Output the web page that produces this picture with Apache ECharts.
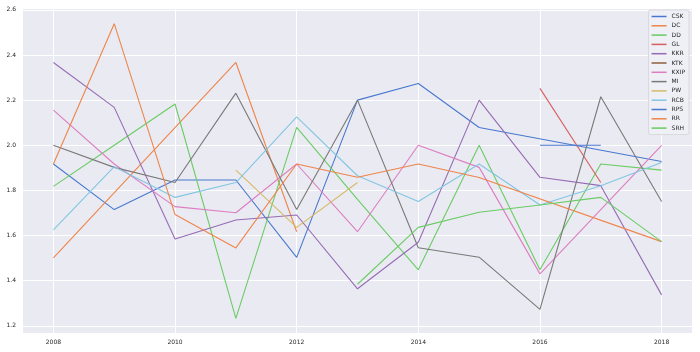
<!DOCTYPE html>
<html>
<head>
<meta charset="utf-8">
<script src="https://cdn.jsdelivr.net/npm/echarts@6/dist/echarts.min.js"></script>
<style>
	html, body { margin: 0; padding: 0; background: #ffffff; }
	#chart { width: 700px; height: 352px; }
</style>
</head>
<body>
<div id="chart"></div>
<script>
var years = [2008, 2009, 2010, 2011, 2012, 2013, 2014, 2015, 2016, 2017, 2018];
var teams = ["CSK", "DC", "DD", "GL", "KKR", "KTK", "KXIP", "MI", "PW", "RCB", "RPS", "RR", "SRH"];
var colors = ["#4878d0", "#ee854a", "#6acc64", "#d65f5f", "#956cb4", "#8c613c", "#dc7ec0", "#797979", "#d5bb67", "#82c6e2", "#4878d0", "#ee854a", "#6acc64"];

// one value per year, null = team did not play
var CSK = [1.917, 1.715, 1.846, 1.846, 1.503, 2.2, 2.274, 2.079, null, null, 1.928];
var DC = [1.501, null, null, 2.367, 1.617, null, null, null, null, null, null];
var DD = [1.818, 2.0, 2.183, 1.233, 2.079, 1.76, 1.448, 2.0, 1.448, 1.917, 1.89];
var GL = [null, null, null, null, null, null, null, null, 2.252, 1.835, null];
var KKR = [2.367, 2.168, 1.585, 1.669, 1.691, 1.364, 1.57, 2.2, 1.858, 1.821, 1.337];
var KTK = [null, null, null, 1.8, null, null, null, null, null, null, null];
var KXIP = [2.156, 1.917, 1.728, 1.701, 1.917, 1.617, 2.0, 1.902, 1.43, 1.715, 2.0];
var MI = [2.0, 1.902, 1.835, 2.231, 1.715, 2.2, 1.546, 1.504, 1.273, 2.215, 1.751];
var PW = [null, null, null, 1.89, 1.636, 1.835, null, null, null, null, null];
var RCB = [1.625, 1.905, 1.769, 1.835, 2.126, 1.865, 1.751, 1.917, 1.735, 1.821, 1.924];
var RPS = [null, null, null, null, null, null, null, null, 2.0, 2.0, null];
var RR = [1.917, 2.539, 1.693, 1.545, 1.917, 1.858, 1.917, 1.857, null, null, 1.573];
var SRH = [null, null, null, null, null, 1.384, 1.636, 1.703, 1.735, 1.769, 1.573];

var yTicks = [1.2, 1.4, 1.6, 1.8, 2.0, 2.2, 2.4, 2.6];
var xTicks = [2008, 2010, 2012, 2014, 2016, 2018];

var values = [CSK, DC, DD, GL, KKR, KTK, KXIP, MI, PW, RCB, RPS, RR, SRH];

var chart = echarts.init(document.getElementById("chart"));

var series = [];
for (var i = 0; i < teams.length; i++) {
	var pts = [];
	for (var j = 0; j < years.length; j++) {
		if (values[i][j] != null) {
			pts.push([years[j], values[i][j]]);
		}
	}
	series.push({
		name: teams[i],
		type: "line",
		data: pts,
		showSymbol: false,
		symbol: "none",
		animation: false,
		color: colors[i],
		lineStyle: { width: 1.1, color: colors[i] },
	});
}

var font = "DejaVu Sans";

chart.setOption({
	backgroundColor: "#ffffff",
	textStyle: { fontFamily: font },
	grid: {
		left: 23,
		right: 8,
		top: 9,
		bottom: 19,
		show: true,
		backgroundColor: "#eaeaf2",
		borderWidth: 0,
	},
	legend: {
		orient: "vertical",
		right: 11,
		top: 10,
		data: teams,
		icon: "rect",
		itemWidth: 15,
		itemHeight: 1.5,
		itemGap: 2.3,
		itemStyle: { borderWidth: 0 },
		padding: [3, 4, 3, 3],
		backgroundColor: "rgba(240,240,246,0.9)",
		borderColor: "#d8d8dd",
		borderWidth: 1,
		borderRadius: 2,
		textStyle: { fontSize: 6, lineHeight: 7, color: "#262626", fontFamily: font },
	},
	xAxis: {
		type: "value",
		min: 2007.5,
		max: 2018.5,
		axisLine: { show: false },
		axisTick: { show: false, customValues: xTicks },
		axisLabel: {
			customValues: xTicks,
			fontSize: 6,
			color: "#262626",
			margin: 6,
			fontFamily: font,
			formatter: function (v) {
				return String(v);
			},
		},
		splitLine: { show: true, lineStyle: { color: "#ffffff", width: 1 } },
	},
	yAxis: {
		type: "value",
		min: 1.168,
		max: 2.604,
		axisLine: { show: false },
		axisTick: { show: false, customValues: yTicks },
		axisLabel: {
			customValues: yTicks,
			fontSize: 6,
			color: "#262626",
			margin: 7,
			fontFamily: font,
			formatter: function (v) {
				return v.toFixed(1);
			},
		},
		splitLine: { show: true, lineStyle: { color: "#ffffff", width: 1 } },
	},
	series: series,
});
</script>
</body>
</html>
